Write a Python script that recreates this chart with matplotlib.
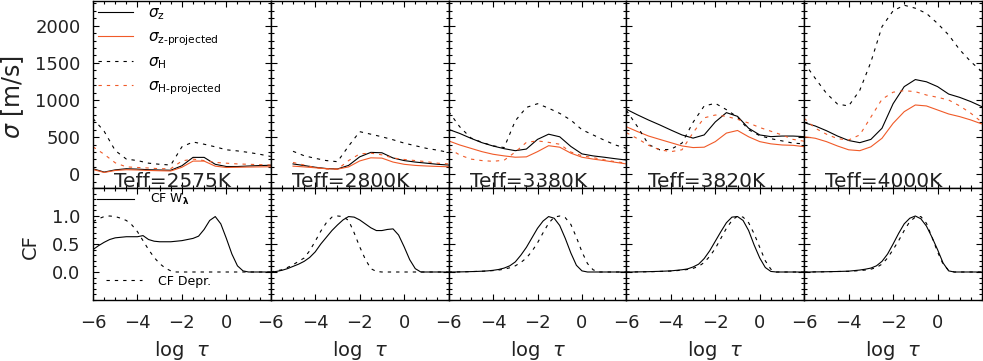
import numpy as np
import matplotlib
matplotlib.use("Agg")
import matplotlib.pyplot as plt
from matplotlib.ticker import MultipleLocator, FixedLocator, FormatStrFormatter

plt.rcParams['font.family'] = ['DejaVu Sans']
plt.rcParams['mathtext.fontset'] = 'dejavusans'

nan = np.nan

# log tau grids
log_tau = np.arange(-6, 2.01, 0.5)      # velocity dispersion panels
log_tau_cf = np.arange(-6, 2.01, 0.25)  # contribution function panels

teff_labels = ["Teff=2575K", "Teff=2800K", "Teff=3380K", "Teff=3820K", "Teff=4000K"]

# sigma_z (black solid)
sig_z = [
    [75, 30, 60, 75, 70, 62, 58, 55, 115, 228, 228, 135, 105, 105, 112, 118, 122],
    [nan, nan, 140, 118, 95, 78, 72, 120, 235, 295, 290, 220, 185, 165, 150, 135, 125],
    [605, 550, 485, 426, 381, 345, 318, 340, 470, 540, 505, 375, 275, 248, 230, 210, 192],
    [875, 800, 730, 665, 596, 530, 487, 530, 705, 830, 780, 620, 530, 507, 515, 515, 507],
    [695, 650, 587, 515, 455, 426, 470, 620, 950, 1180, 1275, 1245, 1180, 1080, 1035, 978, 910],
]
# sigma_z projected (orange solid)
sig_zp = [
    [65, 25, 52, 62, 58, 52, 48, 45, 95, 178, 178, 110, 92, 95, 98, 100, 102],
    [nan, nan, 110, 100, 88, 75, 70, 100, 180, 222, 218, 165, 135, 120, 112, 106, 102],
    [450, 395, 350, 305, 270, 248, 230, 235, 305, 385, 365, 285, 230, 205, 185, 162, 140],
    [640, 575, 515, 470, 426, 382, 360, 365, 440, 555, 590, 505, 440, 410, 395, 390, 372],
    [506, 485, 440, 381, 330, 318, 370, 485, 686, 843, 933, 920, 866, 812, 776, 731, 677],
]
# sigma_H (black dashed)
sig_h = [
    [750, 580, 320, 205, 185, 150, 135, 125, 370, 435, 405, 370, 330, 315, 295, 270, 240],
    [nan, nan, 310, 250, 215, 185, 170, 380, 574, 540, 505, 465, 420, 385, 350, 325, 295],
    [845, 640, 490, 430, 383, 360, 720, 900, 950, 890, 820, 730, 600, 530, 460, 395, 350],
    [860, 640, 400, 330, 335, 420, 700, 920, 955, 870, 770, 600, 520, 480, 450, 420, 410],
    [1500, 1290, 1090, 945, 920, 1130, 1510, 1987, 2200, 2275, 2235, 2165, 2030, 1875, 1675, 1515, 1380],
]
# sigma_H projected (orange dashed)
sig_hp = [
    [370, 270, 155, 100, 92, 85, 75, 76, 180, 205, 185, 160, 150, 140, 135, 130, 125],
    [nan, nan, 160, 125, 90, 72, 68, 185, 275, 285, 262, 220, 200, 185, 170, 150, 140],
    [350, 260, 205, 185, 175, 190, 300, 430, 450, 430, 405, 300, 250, 225, 195, 170, 150],
    [560, 480, 390, 330, 305, 330, 560, 760, 798, 780, 740, 690, 630, 580, 530, 470, 445],
    [754, 620, 540, 480, 462, 530, 770, 1010, 1105, 1126, 1112, 1067, 1036, 1000, 920, 821, 700],
]

# contribution functions: equivalent width (solid) and depression (dashed)
cf_w = [
    [0.40, 0.47, 0.53, 0.58, 0.61, 0.62, 0.63, 0.63, 0.63, 0.65, 0.58, 0.55, 0.54, 0.54, 0.54, 0.55,
     0.56, 0.58, 0.60, 0.64, 0.76, 0.92, 0.99, 0.86, 0.60, 0.32, 0.11, 0.02, 0, 0, 0, 0, 0],
    [0.0, 0.01, 0.03, 0.06, 0.10, 0.14, 0.19, 0.26, 0.36, 0.50, 0.62, 0.74, 0.84, 0.93, 0.99, 0.98,
     0.93, 0.86, 0.79, 0.74, 0.74, 0.76, 0.77, 0.66, 0.45, 0.22, 0.06, 0, 0, 0, 0, 0, 0],
    [0, 0, 0.002, 0.004, 0.007, 0.01, 0.014, 0.02, 0.03, 0.045, 0.07, 0.11, 0.18, 0.30, 0.44, 0.61,
     0.78, 0.91, 0.99, 0.96, 0.83, 0.60, 0.34, 0.12, 0.02, 0, 0, 0, 0, 0, 0, 0, 0],
    [0, 0, 0.002, 0.004, 0.006, 0.009, 0.012, 0.016, 0.02, 0.03, 0.04, 0.055, 0.09, 0.14, 0.24, 0.38,
     0.55, 0.72, 0.88, 0.98, 0.99, 0.92, 0.74, 0.48, 0.25, 0.08, 0.01, 0, 0, 0, 0, 0, 0],
    [0, 0, 0.002, 0.003, 0.005, 0.007, 0.009, 0.012, 0.015, 0.025, 0.035, 0.05, 0.07, 0.11, 0.19, 0.32,
     0.50, 0.69, 0.86, 0.96, 1.0, 0.95, 0.82, 0.62, 0.40, 0.16, 0.02, 0, 0, 0, 0, 0, 0],
]
cf_d = [
    [0.90, 0.95, 0.99, 1.0, 0.99, 0.96, 0.92, 0.84, 0.72, 0.56, 0.40, 0.26, 0.15, 0.07, 0.02, 0,
     0, 0, 0, 0, 0, 0, 0, 0, 0, 0, 0, 0, 0, 0, 0, 0, 0],
    [0, 0.02, 0.04, 0.08, 0.13, 0.19, 0.25, 0.38, 0.55, 0.73, 0.88, 0.98, 1.0, 0.99, 0.92, 0.70,
     0.45, 0.23, 0.06, 0.01, 0, 0, 0, 0, 0, 0, 0, 0, 0, 0, 0, 0, 0],
    [0, 0, 0.002, 0.004, 0.007, 0.01, 0.013, 0.018, 0.025, 0.035, 0.05, 0.075, 0.11, 0.17, 0.25, 0.37,
     0.52, 0.70, 0.87, 0.98, 1.0, 0.97, 0.85, 0.62, 0.36, 0.15, 0.04, 0, 0, 0, 0, 0, 0],
    [0, 0, 0.002, 0.003, 0.005, 0.007, 0.01, 0.013, 0.017, 0.024, 0.033, 0.045, 0.065, 0.10, 0.17, 0.28,
     0.42, 0.60, 0.78, 0.92, 1.0, 0.98, 0.88, 0.68, 0.44, 0.20, 0.05, 0, 0, 0, 0, 0, 0],
    [0, 0, 0.002, 0.003, 0.005, 0.007, 0.009, 0.01, 0.012, 0.018, 0.025, 0.035, 0.05, 0.08, 0.14, 0.25,
     0.40, 0.56, 0.74, 0.90, 0.98, 0.99, 0.87, 0.62, 0.36, 0.14, 0.03, 0, 0, 0, 0, 0, 0],
]

ORANGE = '#f05a28'
DASH = (3, 4.5)
LW = 0.8
W, H = 983, 361

fig = plt.figure(figsize=(W / 100, H / 100), dpi=100)


def style_axis(ax):
    ax.tick_params(which='both', direction='in', top=True, right=True,
                   labelsize=13, width=0.8, pad=9, colors='black', labelcolor='#222222')
    ax.tick_params(which='major', length=4)
    ax.tick_params(which='minor', length=2)
    for sp in ax.spines.values():
        sp.set_linewidth(1.0)
    ax.set_xlim(-6, 2)
    ax.xaxis.set_major_locator(FixedLocator([-6, -4, -2, 0]))
    ax.xaxis.set_minor_locator(MultipleLocator(0.5))


pw = 177.8
for i in range(5):
    left = (93 + i * pw) / W
    ax = fig.add_axes([left, 1 - 188 / H, pw / W, 187 / H])
    ax2 = fig.add_axes([left, 1 - 300 / H, pw / W, 112 / H])
    style_axis(ax)
    style_axis(ax2)

    # velocity dispersions
    ax.plot(log_tau, sig_z[i], color='black', lw=LW, label=r'$\sigma_{\mathrm{z}}$')
    ax.plot(log_tau, sig_zp[i], color=ORANGE, lw=LW, label=r'$\sigma_{\text{z-projected}}$')
    ax.plot(log_tau, sig_h[i], color='black', lw=LW, dashes=DASH, label=r'$\sigma_{\mathrm{H}}$')
    ax.plot(log_tau, sig_hp[i], color=ORANGE, lw=LW, dashes=DASH, label=r'$\sigma_{\text{H-projected}}$')
    ax.set_ylim(-184, 2332)
    ax.yaxis.set_major_locator(FixedLocator([0, 500, 1000, 1500, 2000]))
    ax.yaxis.set_minor_locator(MultipleLocator(100))
    ax.set_xticklabels([])
    ax.text(-5.05, -168, teff_labels[i], fontsize=14.5, color='#222222',
            ha='left', va='baseline')

    # contribution functions
    l1, = ax2.plot(log_tau_cf, cf_w[i], color='black', lw=LW, label=r'CF W$_{\mathbf{\lambda}}$')
    l2, = ax2.plot(log_tau_cf, cf_d[i], color='black', lw=LW, dashes=DASH, label='CF Depr.')
    ax2.set_ylim(-0.5, 1.5)
    ax2.yaxis.set_major_locator(FixedLocator([0.0, 0.5, 1.0]))
    ax2.yaxis.set_minor_locator(MultipleLocator(0.1))
    ax2.tick_params(axis='x', pad=10)
    ax2.set_xlabel(r'log  $\tau$', fontsize=14, color='#222222', labelpad=5)
    ax2.yaxis.set_major_formatter(FormatStrFormatter('%.1f'))

    if i == 0:
        ax.legend(loc='upper left', bbox_to_anchor=(0.0, 1.0), frameon=False,
                  fontsize=11, handlelength=2.3, handletextpad=1.0,
                  labelspacing=0.45, borderaxespad=0.1, borderpad=0.2)
        leg1 = ax2.legend(handles=[l1], loc='upper left', frameon=False, fontsize=9,
                          handlelength=2.9, handletextpad=1.3, borderaxespad=0.15,
                          borderpad=0.2)
        ax2.add_artist(leg1)
        ax2.legend(handles=[l2], loc='lower left', frameon=False, fontsize=9,
                   handlelength=2.9, handletextpad=1.3, borderaxespad=0.8,
                   borderpad=0.2)
    else:
        ax.set_yticklabels([])
        ax2.set_yticklabels([])

fig.text(13 / W, 1 - 97 / H, r'$\sigma$ [m/s]', rotation=90, fontsize=17,
         ha='center', va='center', color='#222222')
fig.text(30 / W, 1 - 247 / H, 'CF', rotation=90, fontsize=14,
         ha='center', va='center', color='#222222')

fig.savefig('out.png', dpi=100)
